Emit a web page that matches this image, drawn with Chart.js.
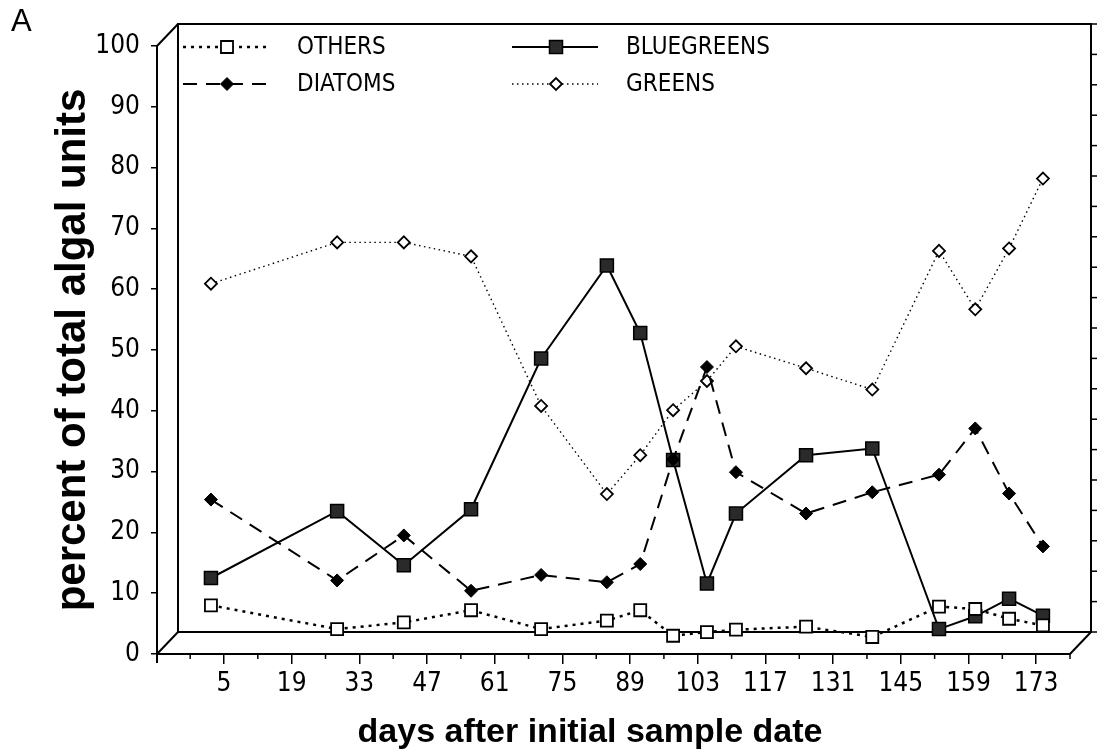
<!DOCTYPE html>
<html>
<head>
<meta charset="utf-8">
<script src="https://cdn.jsdelivr.net/npm/chart.js@4.4.0/dist/chart.umd.min.js"></script>
<style>
  html, body { margin: 0; padding: 0; background: #fff; }
  canvas { display: block; }
</style>
</head>
<body>
<canvas id="chart" width="1097" height="752"></canvas>
<script>
// sample days and percent of total algal units
const days       = [2.3, 28.4, 42.2, 56.1, 70.6, 84.2, 91.1, 97.9, 104.9, 110.9, 125.4, 139.1, 152.9, 160.4, 167.4, 174.4];
const others     = [8.0, 4.1, 5.2, 7.2, 4.1, 5.5, 7.2, 3.0, 3.6, 4.0, 4.5, 2.8, 7.8, 7.4, 5.8, 4.7];
const diatoms    = [25.4, 12.1, 19.5, 10.4, 13.0, 11.8, 14.8, 32.0, 47.2, 29.9, 23.1, 26.6, 29.5, 37.1, 26.4, 17.7];
const bluegreens = [12.5, 23.5, 14.6, 23.8, 48.6, 63.9, 52.8, 31.9, 11.6, 23.1, 32.7, 33.8, 4.1, 6.2, 9.1, 6.3];
const greens     = [60.9, 67.7, 67.7, 65.4, 40.8, 26.3, 32.7, 40.1, 44.9, 50.6, 47.0, 43.5, 66.3, 56.7, 66.7, 78.2];

const xTickLabels = [5, 19, 33, 47, 61, 75, 89, 103, 117, 131, 145, 159, 173];
const yTickLabels = [0, 10, 20, 30, 40, 50, 60, 70, 80, 90, 100];

const NARROW = '"Liberation Sans Narrow", "DejaVu Sans Condensed", "Liberation Sans", sans-serif';
const SANS = '"Liberation Sans", Arial, sans-serif';

const pts = (arr) => days.map((d, i) => ({ x: d, y: arr[i] }));

// 3D depth offset of the back wall
const DX = 21, DY = -22;

function line(ctx, x1, y1, x2, y2) {
    ctx.beginPath();
    ctx.moveTo(x1, y1);
    ctx.lineTo(x2, y2);
    ctx.stroke();
}

const framePlugin = {
    id: "frame3d",
    beforeDatasetsDraw(chart) {
        const { ctx } = chart;
        const xs = chart.scales.x, ys = chart.scales.y;
        const L = xs.left, R = xs.right, T = ys.top, B = ys.bottom;
        ctx.save();
        ctx.strokeStyle = "#000";
        ctx.lineWidth = 2;
        // back wall
        ctx.strokeRect(L + DX, T + DY, R - L, B - T);
        // depth edges
        line(ctx, L, T, L + DX, T + DY);
        line(ctx, L, B, L + DX, B + DY);
        line(ctx, R, B, R + DX, B + DY);
        line(ctx, L, B, L, B + 9);
        // ticks on the back right edge
        ctx.lineWidth = 1.5;
        for (let v = 0; v <= 100; v += 5) {
            const y = ys.getPixelForValue(v) + DY;
            line(ctx, R + DX, y, R + DX + 6, y);
        }
        // short x ticks between labels
        for (let i = 0; i <= xTickLabels.length; i++) {
            const v = xTickLabels[0] - 7 + i * 14;
            const x = xs.getPixelForValue(v);
            line(ctx, x, B, x, B + 5);
        }
        ctx.restore();
    },
    afterDraw(chart) {
        const { ctx } = chart;
        const ys = chart.scales.y;
        ctx.save();
        ctx.fillStyle = "#000";

        // legend
        const rows = [
            { ds: 0, x: 183, y: 47 },
            { ds: 1, x: 183, y: 84 },
            { ds: 2, x: 512, y: 47 },
            { ds: 3, x: 512, y: 84 },
        ];
        rows.forEach((r) => {
            const ds = chart.data.datasets[r.ds];
            ctx.save();
            ctx.strokeStyle = ds.borderColor;
            ctx.lineWidth = ds.borderWidth;
            ctx.setLineDash(ds.borderDash || []);
            line(ctx, r.x, r.y, r.x + 86, r.y);
            ctx.setLineDash([]);
            ctx.fillStyle = ds.pointBackgroundColor;
            ctx.strokeStyle = ds.pointBorderColor;
            ctx.lineWidth = ds.pointBorderWidth;
            Chart.helpers.drawPoint(ctx, {
                pointStyle: ds.pointStyle,
                radius: ds.pointRadius,
                borderWidth: ds.pointBorderWidth,
                rotation: 0,
            }, r.x + 44, r.y);
            ctx.restore();
            ctx.font = "24px " + NARROW;
            ctx.textBaseline = "middle";
            ctx.textAlign = "left";
            ctx.fillText(ds.label, r.x + 114, r.y + 1);
        });

        // axis titles
        ctx.font = "bold 34px " + SANS;
        ctx.textAlign = "center";
        ctx.textBaseline = "alphabetic";
        ctx.fillText("days after initial sample date", 590, 742);

        ctx.save();
        ctx.translate(85, (ys.top + ys.bottom) / 2);
        ctx.rotate(-Math.PI / 2);
        ctx.font = "bold 42px " + SANS;
        ctx.fillText("percent of total algal units", 0, 0);
        ctx.restore();

        // panel letter
        ctx.font = "31px " + SANS;
        ctx.textAlign = "left";
        ctx.fillText("A", 11, 31);
        ctx.restore();
    },
};

const el = document.getElementById("chart");
el._chart = new Chart(el.getContext("2d"), {
    type: "line",
    data: {
        datasets: [
            {
                label: "OTHERS",
                data: pts(others),
                borderColor: "#000",
                borderWidth: 2.5,
                borderDash: [3, 5],
                pointStyle: "rect",
                pointRadius: 8.5,
                pointBorderWidth: 1.8,
                pointBackgroundColor: "#fff",
                pointBorderColor: "#000",
            },
            {
                label: "DIATOMS",
                data: pts(diatoms),
                borderColor: "#000",
                borderWidth: 2,
                borderDash: [14, 9],
                pointStyle: "rectRot",
                pointRadius: 6.5,
                pointBorderWidth: 1,
                pointBackgroundColor: "#000",
                pointBorderColor: "#000",
            },
            {
                label: "BLUEGREENS",
                data: pts(bluegreens),
                borderColor: "#000",
                borderWidth: 2,
                borderDash: [],
                pointStyle: "rect",
                pointRadius: 9.2,
                pointBorderWidth: 1.5,
                pointBackgroundColor: "#2a2a2a",
                pointBorderColor: "#000",
            },
            {
                label: "GREENS",
                data: pts(greens),
                borderColor: "#000",
                borderWidth: 1.4,
                borderDash: [1.5, 3.5],
                pointStyle: "rectRot",
                pointRadius: 6,
                pointBorderWidth: 1.8,
                pointBackgroundColor: "#fff",
                pointBorderColor: "#000",
            },
        ],
    },
    options: {
        responsive: false,
        animation: false,
        clip: false,
        elements: { line: { tension: 0 } },
        layout: { padding: { top: 46, right: 27, left: 0, bottom: 0 } },
        plugins: {
            legend: { display: false },
            tooltip: { enabled: false },
        },
        scales: {
            x: {
                type: "linear",
                min: -8.86,
                max: 180,
                afterBuildTicks: (s) => { s.ticks = xTickLabels.map((v) => ({ value: v })); },
                afterFit: (s) => { s.height = 98; },
                grid: { display: true, drawOnChartArea: false, drawTicks: true, tickLength: 10, color: "#000", lineWidth: 1.5 },
                border: { display: true, color: "#000", width: 2 },
                ticks: { color: "#000", font: { family: NARROW, size: 26 }, padding: 5, maxRotation: 0, autoSkip: false },
            },
            y: {
                min: 0,
                max: 100,
                afterFit: (s) => { s.width = 157; },
                grid: { display: true, drawOnChartArea: false, drawTicks: true, tickLength: 6, color: "#000", lineWidth: 1.5 },
                border: { display: true, color: "#000", width: 2 },
                ticks: {
                    stepSize: 5,
                    color: "#000",
                    font: { family: NARROW, size: 26 },
                    padding: 11,
                    callback: (v) => (yTickLabels.includes(v) ? String(v) : ""),
                },
            },
        },
    },
    plugins: [framePlugin],
});
</script>
</body>
</html>
